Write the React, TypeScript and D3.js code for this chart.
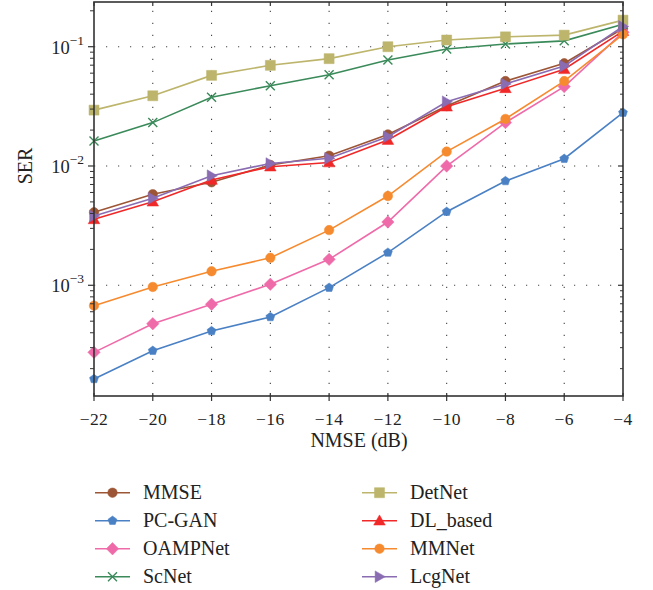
import React from 'react';
import * as d3 from 'd3';

const xValues = [-22, -20, -18, -16, -14, -12, -10, -8, -6, -4];
const mmse = [0.00409, 0.0058, 0.0073, 0.0102, 0.0122, 0.0184, 0.0318, 0.0515, 0.0726, 0.142];
const pcgan = [0.000164, 0.000283, 0.000414, 0.000542, 0.000955, 0.00188, 0.00414, 0.00748, 0.0115, 0.028];
const oampnet = [0.000274, 0.000476, 0.000693, 0.00102, 0.00165, 0.00339, 0.00999, 0.0231, 0.0463, 0.132];
const scnet = [0.0162, 0.0231, 0.0377, 0.0471, 0.0582, 0.0774, 0.0957, 0.1054, 0.112, 0.154];
const detnet = [0.0294, 0.0388, 0.0575, 0.0698, 0.0794, 0.1, 0.1138, 0.121, 0.125, 0.167];
const dlbased = [0.00357, 0.00502, 0.00764, 0.00987, 0.0107, 0.0165, 0.0314, 0.0448, 0.0647, 0.135];
const mmnet = [0.000675, 0.000968, 0.00131, 0.0017, 0.0029, 0.0056, 0.0132, 0.0248, 0.0515, 0.127];
const lcgnet = [0.00381, 0.00536, 0.0083, 0.0105, 0.0116, 0.0176, 0.0346, 0.0487, 0.0689, 0.148];

const xTicks = [-22, -20, -18, -16, -14, -12, -10, -8, -6, -4];
const yMajorTicks = [1e-3, 1e-2, 1e-1];
const yTickLabels = ['\u22123', '\u22122', '\u22121'];

const seriesNames = ['MMSE', 'PC-GAN', 'OAMPNet', 'ScNet', 'DetNet', 'DL_based', 'MMNet', 'LcgNet'];
const seriesData = [mmse, pcgan, oampnet, scnet, detnet, dlbased, mmnet, lcgnet];
const seriesColors = ['#9c5535', '#4a80c4', '#ef6aa9', '#3a8a5a', '#bdb56c', '#f02828', '#f68a2e', '#8a6cb3'];
const seriesMarkers = ['circle', 'pentagon', 'diamond', 'x', 'square', 'triangle', 'circle', 'triright'];

const FONT = '"Liberation Serif", "DejaVu Serif", serif';

function markerPath(type: string, s: number): string {
  const pts = (arr: number[][]) => 'M' + arr.map(p => p[0].toFixed(2) + ',' + p[1].toFixed(2)).join('L') + 'Z';
  switch (type) {
    case 'circle': {
      const r = s / 2;
      return `M${-r},0A${r},${r} 0 1,0 ${r},0A${r},${r} 0 1,0 ${-r},0Z`;
    }
    case 'square': {
      const h = s / 2;
      return pts([[-h, -h], [h, -h], [h, h], [-h, h]]);
    }
    case 'diamond': {
      const h = s * 0.62;
      return pts([[0, -h], [h, 0], [0, h], [-h, 0]]);
    }
    case 'triangle': {
      const h = s * 0.58;
      return pts([[0, -h], [h, h * 0.75], [-h, h * 0.75]]);
    }
    case 'triright': {
      const h = s * 0.58;
      return pts([[h, 0], [-h * 0.75, -h], [-h * 0.75, h]]);
    }
    case 'pentagon': {
      const r = s * 0.55;
      const a: number[][] = [];
      for (let i = 0; i < 5; i++) {
        const ang = -Math.PI / 2 + (i * 2 * Math.PI) / 5;
        a.push([r * Math.cos(ang), r * Math.sin(ang)]);
      }
      return pts(a);
    }
    case 'x': {
      const h = s / 2;
      return `M${-h},${-h}L${h},${h}M${-h},${h}L${h},${-h}`;
    }
  }
  return '';
}

const markerSizes: Record<string, number> = {
  circle: 9.5, square: 10, diamond: 10, triangle: 10, triright: 10, pentagon: 8.5, x: 9,
};

function Marker({ type, color, x, y }: { type: string; color: string; x: number; y: number }) {
  const d = markerPath(type, markerSizes[type]);
  if (type === 'x') {
    return <path d={d} transform={`translate(${x},${y})`} fill="none" stroke={color} strokeWidth={1.4} />;
  }
  return <path d={d} transform={`translate(${x},${y})`} fill={color} stroke={color} strokeWidth={0.5} />;
}

export default function App() {
  const W = 653, H = 590;
  const left = 94, right = 623, top = 2, bottom = 396;
  const x = d3.scaleLinear().domain([-22, -4]).range([left, right]);
  const y = d3.scaleLog().domain([1.18e-4, 0.237]).range([bottom, top]);
  const line = d3.line<number>().x((_, i) => x(xValues[i])).y(d => y(d));

  const minorTicks: number[] = [];
  for (let e = -4; e <= -1; e++) {
    for (let m = 2; m <= 9; m++) {
      const v = m * Math.pow(10, e);
      if (v > 1.18e-4 && v < 0.237) minorTicks.push(v);
    }
  }

  return (
    <svg width={W} height={H} style={{ position: 'absolute', left: 0, top: 0, background: '#fff' }} fontFamily={FONT}>
      <rect x={0} y={0} width={W} height={H} fill="#fff" />
      {/* grid */}
      {xTicks.slice(1, -1).map(t => (
        <line key={'gx' + t} x1={x(t)} x2={x(t)} y1={bottom} y2={top} stroke="#444" strokeWidth={1.1} strokeDasharray="1.2,10.8" />
      ))}
      {yMajorTicks.map(t => (
        <line key={'gy' + t} x1={left} x2={right} y1={y(t)} y2={y(t)} stroke="#444" strokeWidth={1.1} strokeDasharray="1.2,10.8" />
      ))}
      {/* series */}
      {seriesData.map((d, i) => (
        <g key={seriesNames[i]}>
          <path d={line(d) || ''} fill="none" stroke={seriesColors[i]} strokeWidth={1.6} />
          {d.map((v, j) => (
            <Marker key={j} type={seriesMarkers[i]} color={seriesColors[i]} x={x(xValues[j])} y={y(v)} />
          ))}
        </g>
      ))}
      {/* frame */}
      <rect x={left} y={top} width={right - left} height={bottom - top} fill="none" stroke="#333" strokeWidth={1.6} />
      {/* x ticks */}
      {xTicks.map(t => (
        <g key={'xt' + t}>
          <line x1={x(t)} x2={x(t)} y1={bottom - 3} y2={bottom + 5} stroke="#333" strokeWidth={1.2} />
          <line x1={x(t)} x2={x(t)} y1={top} y2={top + 4} stroke="#333" strokeWidth={1.2} />
          <text x={x(t)} y={425} textAnchor="middle" fontSize={17.5} fill="#222" letterSpacing={0.4}>
            {t < 0 ? '\u2212' + Math.abs(t) : String(t)}
          </text>
        </g>
      ))}
      {/* y ticks */}
      {yMajorTicks.map((t, i) => (
        <g key={'yt' + t}>
          <line x1={left - 6} x2={left} y1={y(t)} y2={y(t)} stroke="#333" strokeWidth={1.2} />
          <line x1={right - 5} x2={right} y1={y(t)} y2={y(t)} stroke="#333" strokeWidth={1.2} />
          <text x={84} y={y(t) + 7} textAnchor="end" fontSize={18.5} fill="#222">
            10<tspan dy={-9} fontSize={13.5}>{yTickLabels[i]}</tspan>
          </text>
        </g>
      ))}
      {minorTicks.map(t => (
        <g key={'ym' + t}>
          <line x1={left - 4} x2={left} y1={y(t)} y2={y(t)} stroke="#333" strokeWidth={1} />
          <line x1={right - 3} x2={right} y1={y(t)} y2={y(t)} stroke="#333" strokeWidth={1} />
        </g>
      ))}
      {/* axis labels */}
      <text x={359} y={447} textAnchor="middle" fontSize={20} fill="#222">NMSE (dB)</text>
      <text transform="translate(32,166) rotate(-90)" textAnchor="middle" fontSize={20} fill="#222">SER</text>
      {/* legend */}
      {seriesNames.map((name, i) => {
        const col = Math.floor(i / 4);
        const row = i % 4;
        const lx = col === 0 ? 95 : 362;
        const ly = 492.7 + row * 28;
        return (
          <g key={'lg' + name}>
            <line x1={lx} x2={lx + 35} y1={ly} y2={ly} stroke={seriesColors[i]} strokeWidth={1.6} />
            <Marker type={seriesMarkers[i]} color={seriesColors[i]} x={lx + 17.5} y={ly} />
            <text x={lx + 48} y={ly + 6.7} fontSize={20} fill="#222">{name}</text>
          </g>
        );
      })}
    </svg>
  );
}
